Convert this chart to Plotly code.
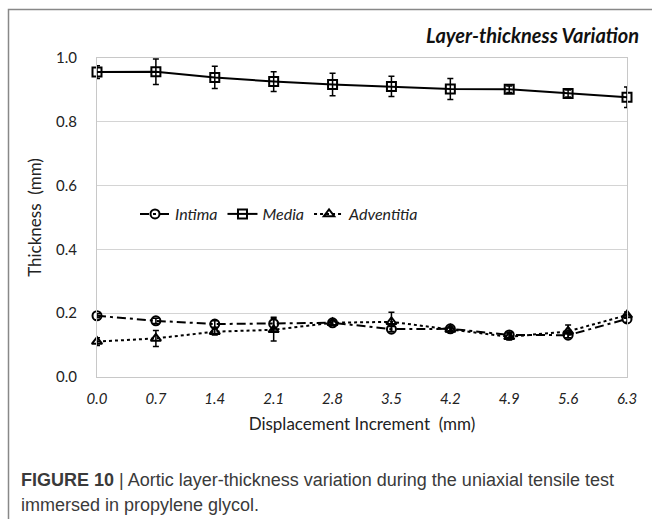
import plotly.graph_objects as go

displacement = [0.0, 0.7, 1.4, 2.1, 2.8, 3.5, 4.2, 4.9, 5.6, 6.3]
tick_labels = ["0.0", "0.7", "1.4", "2.1", "2.8", "3.5", "4.2", "4.9", "5.6", "6.3"]

intima = [0.192, 0.176, 0.166, 0.167, 0.170, 0.150, 0.151, 0.132, 0.131, 0.182]
intima_err = [0.006, 0.008, 0.010, 0.020, 0.006, 0.008, 0.006, 0.008, 0.008, 0.010]

media = [0.956, 0.957, 0.939, 0.926, 0.917, 0.911, 0.903, 0.902, 0.889, 0.877]
media_err = [0.020, 0.040, 0.035, 0.031, 0.035, 0.032, 0.033, 0.010, 0.011, 0.032]

adventitia = [0.111, 0.121, 0.142, 0.148, 0.170, 0.173, 0.149, 0.126, 0.143, 0.194]
adventitia_err = [0.012, 0.025, 0.010, 0.035, 0.006, 0.030, 0.006, 0.010, 0.020, 0.010]

W, H = 652, 519
L, R, T, B = 97, 627, 58, 377


def px(x):
    return (x - L) / (R - L)


def py(y):
    return (B - y) / (B - T)


FONT = "Lato, 'Open Sans', sans-serif"
CAP_FONT = "Liberation Sans, Arial, sans-serif"

fig = go.Figure()

err_style = dict(type="data", color="black", thickness=1.5, width=3, visible=True)

fig.add_trace(go.Scatter(
    x=displacement, y=intima, name="Intima", mode="lines+markers",
    line=dict(color="black", width=2, dash="9px,4px,3px,4px"),
    marker=dict(symbol="circle-open", size=9, color="black", line=dict(width=2)),
    error_y=dict(array=intima_err, **err_style), cliponaxis=False,
))
fig.add_trace(go.Scatter(
    x=displacement, y=media, name="Media", mode="lines+markers",
    line=dict(color="black", width=2),
    marker=dict(symbol="square-open", size=9, color="black", line=dict(width=2)),
    error_y=dict(array=media_err, **err_style), cliponaxis=False,
))
fig.add_trace(go.Scatter(
    x=displacement, y=adventitia, name="Adventitia", mode="lines+markers",
    line=dict(color="black", width=2, dash="dot"),
    marker=dict(symbol="triangle-up-open", size=9, color="black", line=dict(width=2)),
    error_y=dict(array=adventitia_err, **err_style), cliponaxis=False,
))

fig.update_layout(
    width=W, height=H,
    margin=dict(l=L, r=W - R, t=T, b=H - B, pad=0),
    paper_bgcolor="white", plot_bgcolor="white",
    font=dict(family=FONT, color="#222", size=14),
    showlegend=True,
    legend=dict(
        orientation="h", x=px(135), y=py(214), xanchor="left", yanchor="middle",
        font=dict(family=FONT, size=16, style="italic", color="#222"),
        bgcolor="rgba(0,0,0,0)", itemwidth=30, tracegroupgap=0,
    ),
    xaxis=dict(
        range=[0, 6.3], tickvals=displacement, ticktext=tick_labels,
        showgrid=False, zeroline=False,
        showline=True, linecolor="#c8c8c8", linewidth=1, mirror=True,
        ticks="", ticklabelstandoff=8,
        tickfont=dict(family=FONT, size=15, style="italic", color="#222"),
        title=dict(text="Displacement Increment  (mm)", standoff=12,
                   font=dict(family=FONT, size=17, color="#222")),
    ),
    yaxis=dict(
        range=[0, 1.0], tickvals=[0, 0.2, 0.4, 0.6, 0.8, 1.0],
        ticktext=["0.0", "0.2", "0.4", "0.6", "0.8", "1.0"],
        showgrid=True, gridcolor="#d4d4d4", gridwidth=1, zeroline=False,
        showline=True, linecolor="#c8c8c8", linewidth=1, mirror=True,
        ticks="", ticklabelstandoff=16,
        tickfont=dict(family=FONT, size=15, color="#222"),
        title=dict(text="Thickness  (mm)", standoff=10,
                   font=dict(family=FONT, size=17, color="#222")),
    ),
    annotations=[
        dict(text="<b><i>Layer-thickness Variation</i></b>", xref="paper", yref="paper",
             x=px(641), y=py(35), xanchor="right", yanchor="middle", showarrow=False,
             font=dict(family=FONT, size=20, color="#111")),
        dict(text="<b>FIGURE 10</b> | Aortic layer-thickness variation during the uniaxial tensile test",
             xref="paper", yref="paper", x=px(19), y=py(480), xanchor="left", yanchor="middle",
             showarrow=False, align="left",
             font=dict(family=CAP_FONT, size=18, color="#3a3a3a")),
        dict(text="immersed in propylene glycol.",
             xref="paper", yref="paper", x=px(19), y=py(505), xanchor="left", yanchor="middle",
             showarrow=False, align="left",
             font=dict(family=CAP_FONT, size=18, color="#3a3a3a")),
    ],
    shapes=[
        dict(type="rect", xref="paper", yref="paper", layer="above",
             x0=px(8.5), x1=px(700), y0=py(9.5), y1=py(600),
             line=dict(color="#888", width=1.5), fillcolor="rgba(0,0,0,0)"),
    ],
)

fig.write_html("out.html", config={"displayModeBar": False},
               post_script="document.body.style.margin='0px';")
